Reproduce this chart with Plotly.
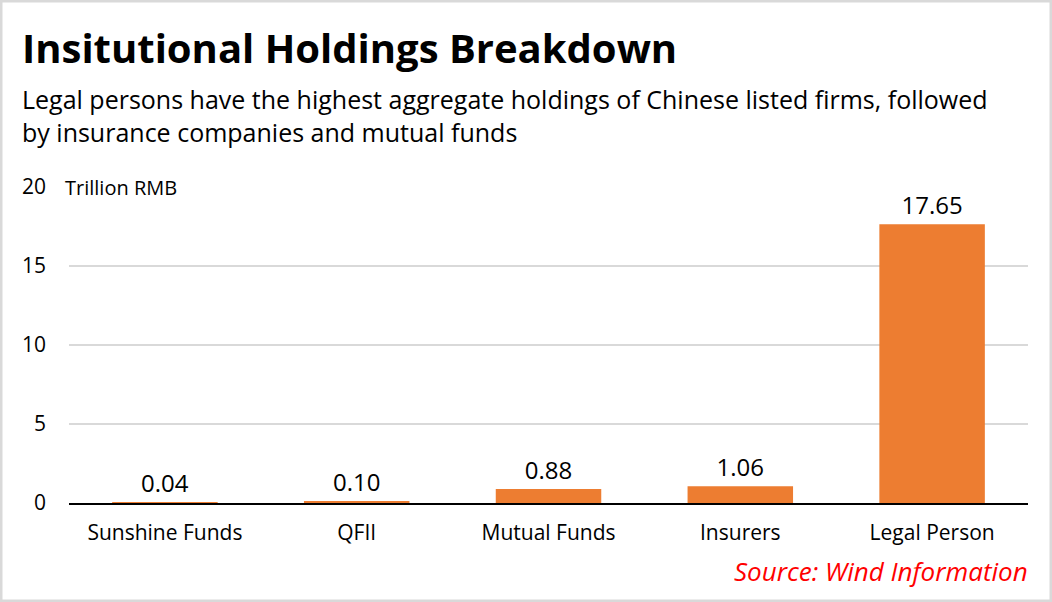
import plotly.graph_objects as go

categories = ["Sunshine Funds", "QFII", "Mutual Funds", "Insurers", "Legal Person"]
holdings = [0.04, 0.10, 0.88, 1.06, 17.65]
value_labels = ["0.04", "0.10", "0.88", "1.06", "17.65"]
y_ticks = [0, 5, 10, 15, 20]

font_name = "Open Sans"

fig = go.Figure()
fig.add_trace(go.Bar(
    x=categories,
    y=holdings,
    text=value_labels,
    textposition="outside",
    textfont=dict(size=24, color="black", family=font_name),
    marker=dict(color="#ED7D31", line=dict(width=0)),
    cliponaxis=False,
))

fig.update_layout(
    width=1052,
    height=602,
    paper_bgcolor="white",
    plot_bgcolor="white",
    margin=dict(l=69, r=24, t=187, b=99),
    bargap=0.45,
    showlegend=False,
    font=dict(family=font_name, color="black"),
    xaxis=dict(
        showgrid=False,
        showline=True,
        linecolor="black",
        linewidth=2,
        ticks="",
        ticklabelstandoff=10,
        tickfont=dict(size=21),
    ),
    yaxis=dict(
        range=[0, 20],
        tickvals=y_ticks,
        showgrid=True,
        gridcolor="#d9d9d9",
        gridwidth=2,
        zeroline=False,
        showline=False,
        ticks="",
        ticklabelstandoff=22,
        tickfont=dict(size=21),
    ),
    shapes=[dict(
        type="rect", xref="paper", yref="paper",
        x0=-68 / 959, x1=1 + 23 / 959, y0=-98 / 316, y1=1 + 186 / 316,
        line=dict(color="#d9d9d9", width=3), fillcolor="rgba(0,0,0,0)",
    )],
    annotations=[
        dict(text="<b>Insitutional Holdings Breakdown</b>", xref="paper", yref="paper",
             x=-49 / 959, y=1 + 139 / 316, xanchor="left", yanchor="middle",
             showarrow=False, font=dict(size=40)),
        dict(text="Legal persons have the highest aggregate holdings of Chinese listed firms, followed<br>by insurance companies and mutual funds",
             xref="paper", yref="paper", x=-49 / 959, y=1 + 72 / 316,
             xanchor="left", yanchor="middle", align="left", showarrow=False,
             font=dict(size=25)),
        dict(text="Trillion RMB", xref="paper", yref="paper", x=-6 / 959, y=1,
             xanchor="left", yanchor="middle", showarrow=False, bgcolor="white",
             font=dict(size=20)),
        dict(text="<i>Source: Wind Information</i>", xref="paper", yref="paper",
             x=1 + 2 / 959, y=-68 / 316, xanchor="right", yanchor="middle",
             showarrow=False, font=dict(size=26, color="red")),
    ],
)

# body margin off so the chart sits flush in the window
fig.write_html("out.html", config={"displayModeBar": False},
               post_script="document.body.style.margin='0';")
